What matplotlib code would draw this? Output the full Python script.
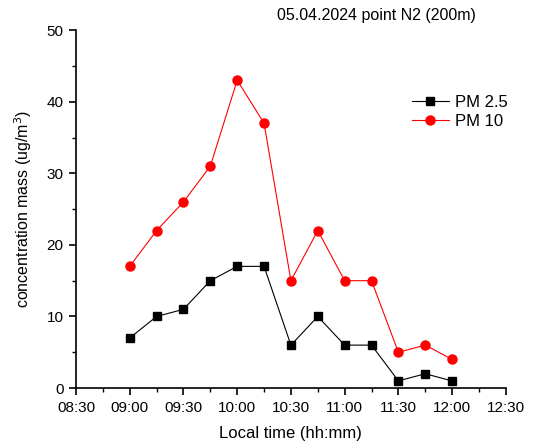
import matplotlib
matplotlib.use('Agg')
import matplotlib.pyplot as plt
from matplotlib.ticker import MultipleLocator, FuncFormatter

plt.rcParams['font.family'] = ['Liberation Sans', 'DejaVu Sans']

# time of day, in minutes after midnight
times = ['09:00', '09:15', '09:30', '09:45', '10:00', '10:15', '10:30',
         '10:45', '11:00', '11:15', '11:30', '11:45', '12:00']
pm25 = [7, 10, 11, 15, 17, 17, 6, 10, 6, 6, 1, 2, 1]
pm10 = [17, 22, 26, 31, 43, 37, 15, 22, 15, 15, 5, 6, 4]

x = [int(t[:2]) * 60 + int(t[3:]) for t in times]

def hhmm(v, pos):
    v = int(round(v))
    return '%02d:%02d' % (v // 60, v % 60)

fig = plt.figure(figsize=(5.41, 4.43), dpi=100)
ax = fig.add_axes([0.1405, 0.124, 0.7945, 0.808])

ax.plot(x, pm25, color='black', marker='s', markersize=6, linewidth=0.8, label='PM 2.5')
ax.plot(x, pm10, color='red', marker='o', markersize=6.5, linewidth=0.8, label='PM 10')

ax.set_xlim(510, 750)
ax.set_ylim(0, 50)
ax.xaxis.set_major_locator(MultipleLocator(30))
ax.xaxis.set_minor_locator(MultipleLocator(15))
ax.xaxis.set_major_formatter(FuncFormatter(hhmm))
ax.yaxis.set_major_locator(MultipleLocator(10))
ax.yaxis.set_minor_locator(MultipleLocator(5))
ax.spines['top'].set_visible(False)
ax.spines['right'].set_visible(False)
ax.spines['left'].set_linewidth(1.2)
ax.spines['bottom'].set_linewidth(1.2)
ax.tick_params(which='major', direction='out', length=5, width=1.2, labelsize=11, pad=4)
ax.tick_params(which='minor', direction='out', length=3, width=1.0)

ax.set_xlabel('Local time (hh:mm)', fontsize=12, labelpad=8)
ax.set_ylabel('concentration mass (ug/m$^3$)', fontsize=11.5, labelpad=9)
ax.text(0.70, 1.02, '05.04.2024 point N2 (200m)', transform=ax.transAxes,
        ha='center', va='bottom', fontsize=11.5)

ax.legend(loc='upper right', bbox_to_anchor=(1.04, 0.86), frameon=False,
          fontsize=12, handlelength=2.2, handletextpad=0.4, labelspacing=0.2)

fig.savefig('out.png', dpi=100)
